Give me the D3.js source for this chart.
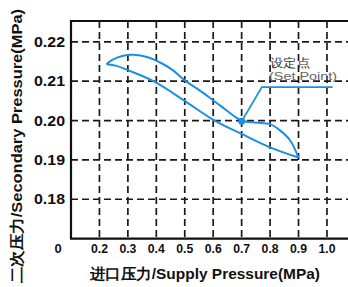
<!DOCTYPE html>
<html>
<head>
<meta charset="utf-8">
<script src="https://cdn.jsdelivr.net/npm/d3@7"></script>
<style>
  html, body { margin: 0; padding: 0; background: #fff; }
  svg { display: block; }
  text { font-family: "Liberation Sans", Arial, sans-serif; font-weight: bold; fill: #111; }
</style>
</head>
<body>
<svg width="348" height="287"></svg>
<script>
// supply pressure (MPa) / secondary pressure (MPa)
const upperX = [0.225, 0.245, 0.28, 0.32, 0.37, 0.42, 0.46, 0.50, 0.55, 0.625, 0.70, 0.75, 0.80, 0.835, 0.87, 0.90];
const upperY = [0.2143, 0.2154, 0.2164, 0.2167, 0.2161, 0.2145, 0.2127, 0.2102, 0.2078, 0.2038, 0.2000, 0.1995, 0.1991, 0.1975, 0.1950, 0.1906];
const lowerX = [0.225, 0.26, 0.30, 0.39, 0.50, 0.60, 0.70, 0.80, 0.90];
const lowerY = [0.2143, 0.2139, 0.2128, 0.2100, 0.2050, 0.2002, 0.1966, 0.1932, 0.1906];
const setPoint = [0.70, 0.1998];
const leaderX = [0.70, 0.771, 1.02];
const leaderY = [0.1998, 0.2085, 0.2085];
const xTicks = [0.2, 0.3, 0.4, 0.5, 0.6, 0.7, 0.8, 0.9, 1.0];
const xTickLabels = ['0.2', '0.3', '0.4', '0.5', '0.6', '0.7', '0.8', '0.9', '1.0'];
const yTicks = [0.18, 0.19, 0.20, 0.21, 0.22];
const yTickLabels = ['0.18', '0.19', '0.20', '0.21', '0.22'];

const svg = d3.select('svg');
const blue = '#1a8fe3';

const x = d3.scaleLinear().domain([0.1, 1.1]).range([71, 355.4]);
const y = d3.scaleLinear().domain([0.17, 0.2253]).range([238.6, 21]);

// grille pointillee
svg.append('g')
  .selectAll('line')
  .data(xTicks)
  .join('line')
  .attr('x1', d => x(d)).attr('x2', d => x(d))
  .attr('y1', y(0.2253)).attr('y2', y(0.17))
  .attr('stroke', '#1a1a1a')
  .attr('stroke-width', 1.7)
  .attr('stroke-dasharray', '7,4');

svg.append('g')
  .selectAll('line')
  .data(yTicks)
  .join('line')
  .attr('x1', x(0.1)).attr('x2', 348)
  .attr('y1', d => y(d)).attr('y2', d => y(d))
  .attr('stroke', '#1a1a1a')
  .attr('stroke-width', 1.7)
  .attr('stroke-dasharray', '7,4');

// cadre
svg.append('path')
  .attr('d', `M360,${y(0.2253)}H${x(0.1)}V${y(0.17)}H360`)
  .attr('fill', 'none')
  .attr('stroke', '#111')
  .attr('stroke-width', 2.2);

// etiquettes
svg.append('g')
  .selectAll('text')
  .data(xTicks)
  .join('text')
  .attr('x', d => x(d))
  .attr('y', 253)
  .attr('text-anchor', 'middle')
  .style('font-size', '13px')
  .attr('textLength', 17)
  .attr('lengthAdjust', 'spacingAndGlyphs')
  .text((d, i) => xTickLabels[i]);

svg.append('text')
  .attr('x', 58).attr('y', 253)
  .attr('text-anchor', 'middle')
  .style('font-size', '13px')
  .text('0');

svg.append('g')
  .selectAll('text')
  .data(yTicks)
  .join('text')
  .attr('x', 65)
  .attr('y', d => y(d) + 5)
  .attr('text-anchor', 'end')
  .style('font-size', '14px')
  .attr('textLength', 31)
  .attr('lengthAdjust', 'spacingAndGlyphs')
  .text((d, i) => yTickLabels[i]);

svg.append('text')
  .attr('x', 205).attr('y', 279)
  .attr('text-anchor', 'middle')
  .style('font-size', '15px')
  .attr('textLength', 230)
  .attr('lengthAdjust', 'spacingAndGlyphs')
  .text('进口压力/Supply Pressure(MPa)');

svg.append('text')
  .attr('transform', 'translate(22,146) rotate(-90)')
  .attr('text-anchor', 'middle')
  .style('font-size', '15px')
  .attr('textLength', 274)
  .attr('lengthAdjust', 'spacingAndGlyphs')
  .text('二次压力/Secondary Pressure(MPa)');

// courbes
const line = d3.line()
  .x(d => x(d[0]))
  .y(d => y(d[1]))
  .curve(d3.curveCatmullRom);

svg.append('path')
  .datum(upperX.map((v, i) => [v, upperY[i]]))
  .attr('d', line)
  .attr('fill', 'none')
  .attr('stroke', blue)
  .attr('stroke-width', 2);

svg.append('path')
  .datum(lowerX.map((v, i) => [v, lowerY[i]]))
  .attr('d', line)
  .attr('fill', 'none')
  .attr('stroke', blue)
  .attr('stroke-width', 2);

svg.append('path')
  .datum(leaderX.map((v, i) => [v, leaderY[i]]))
  .attr('d', d3.line().x(d => x(d[0])).y(d => y(d[1])))
  .attr('fill', 'none')
  .attr('stroke', blue)
  .attr('stroke-width', 1.8);

svg.append('circle')
  .attr('cx', x(setPoint[0]))
  .attr('cy', y(setPoint[1]))
  .attr('r', 3.5)
  .attr('fill', blue);

svg.append('text')
  .attr('x', 270).attr('y', 67)
  .style('font-size', '12px')
  .style('font-weight', 'normal')
  .style('fill', '#333')
  .attr('textLength', 40)
  .attr('lengthAdjust', 'spacingAndGlyphs')
  .text('设定点');

svg.append('text')
  .attr('x', 269).attr('y', 80)
  .style('font-size', '11px')
  .style('font-weight', 'normal')
  .style('fill', '#666')
  .attr('textLength', 68)
  .attr('lengthAdjust', 'spacingAndGlyphs')
  .text('(Set Point)');
</script>
</body>
</html>
